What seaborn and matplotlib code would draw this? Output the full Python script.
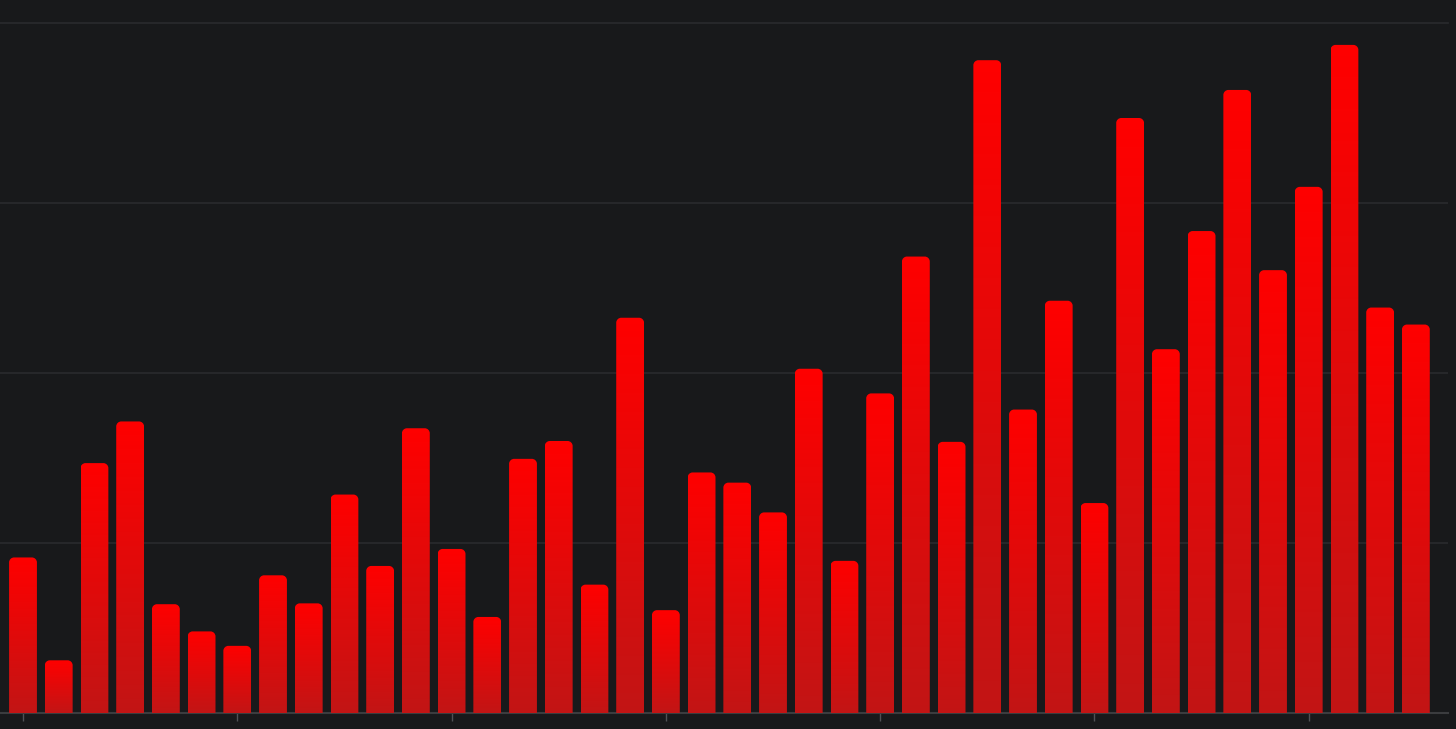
import numpy as np
import pandas as pd
import matplotlib
matplotlib.use("Agg")
import matplotlib.pyplot as plt
import seaborn as sns
from matplotlib.path import Path
from matplotlib.patches import PathPatch
from matplotlib.colors import LinearSegmentedColormap

categories = [f"P{i+1}" for i in range(40)]
values = [91.5, 31, 147, 171.5, 64, 48, 39.5, 81, 64.5, 128.5,
          86.5, 167.5, 96.5, 56.5, 149.5, 160, 75.5, 232.5, 60.5, 141.5,
          135.5, 118, 202.5, 89.5, 188, 268.5, 159.5, 384, 178.5, 242.5,
          123.5, 350, 214, 283.5, 366.5, 260.5, 309.5, 393, 238.5, 228.5]
tick_every = 6

BG = "#18191b"
GRID = "#2a2b2e"
AXIS = "#3b3c3f"
TOP_COLOR = "#ff0000"
BOTTOM_COLOR = "#c21515"

sns.set_style("dark", {"axes.facecolor": BG, "figure.facecolor": BG,
                       "grid.color": GRID, "axes.edgecolor": AXIS,
                       "xtick.bottom": True})

df = pd.DataFrame({"cat": categories, "val": values})

W, H = 1456, 729
fig = plt.figure(figsize=(W / 100, H / 100), dpi=100)
ax_left, ax_right, ax_top, ax_bot = 0, 1448, 23, 713
ax = fig.add_axes([ax_left / W, (H - ax_bot) / H, (ax_right - ax_left) / W, (ax_bot - ax_top) / H])

sns.barplot(data=df, x="cat", y="val", color=TOP_COLOR, width=0.78, ax=ax, saturation=1)

ymax = (ax_bot - ax_top) / 170 * 100
ax.set_ylim(0, ymax)
ax.set_xlim(-0.644, 39.9)

cmap = LinearSegmentedColormap.from_list("g", [BOTTOM_COLOR, TOP_COLOR])
grad = np.linspace(0, 1, 256).reshape(-1, 1)

px_per_x = (ax_right - ax_left) / (39.9 + 0.644)
px_per_y = 170 / 100
r_px = 5
rx = r_px / px_per_x
ry = r_px / px_per_y
k = 0.5523

for p in list(ax.patches):
    x0 = p.get_x()
    w = p.get_width()
    h = p.get_height()
    x1 = x0 + w
    p.set_visible(False)
    verts = [
        (x0, 0), (x0, h - ry),
        (x0, h - ry + k * ry), (x0 + rx - k * rx, h), (x0 + rx, h),
        (x1 - rx, h),
        (x1 - rx + k * rx, h), (x1, h - ry + k * ry), (x1, h - ry),
        (x1, 0), (x0, 0),
    ]
    codes = [Path.MOVETO, Path.LINETO,
             Path.CURVE4, Path.CURVE4, Path.CURVE4,
             Path.LINETO,
             Path.CURVE4, Path.CURVE4, Path.CURVE4,
             Path.LINETO, Path.CLOSEPOLY]
    path = Path(verts, codes)
    patch = PathPatch(path, facecolor="none", edgecolor="none")
    ax.add_patch(patch)
    im = ax.imshow(grad, cmap=cmap, origin="lower", aspect="auto",
                   extent=[x0, x1, 0, h], zorder=3, interpolation="bilinear")
    im.set_clip_path(patch)

ax.set_xlim(-0.644, 39.9)
ax.set_ylim(0, ymax)

ax.set_yticks([100, 200, 300])
ax.yaxis.grid(True, color=GRID, linewidth=1.2)
ax.xaxis.grid(False)
ax.set_axisbelow(True)
ax.tick_params(axis="y", length=0, labelleft=False)
ax.set_xticks(range(0, len(categories), tick_every))
ax.set_xticklabels([])
ax.tick_params(axis="x", bottom=True, length=6, width=1, color="#505155", direction="out")
ax.set_xlabel("")
ax.set_ylabel("")

for s in ["left", "right"]:
    ax.spines[s].set_visible(False)
ax.spines["top"].set_color(GRID)
ax.spines["top"].set_linewidth(1.2)
ax.spines["bottom"].set_color(AXIS)
ax.spines["bottom"].set_linewidth(1.5)

fig.savefig("out.png", dpi=100, facecolor=BG)
